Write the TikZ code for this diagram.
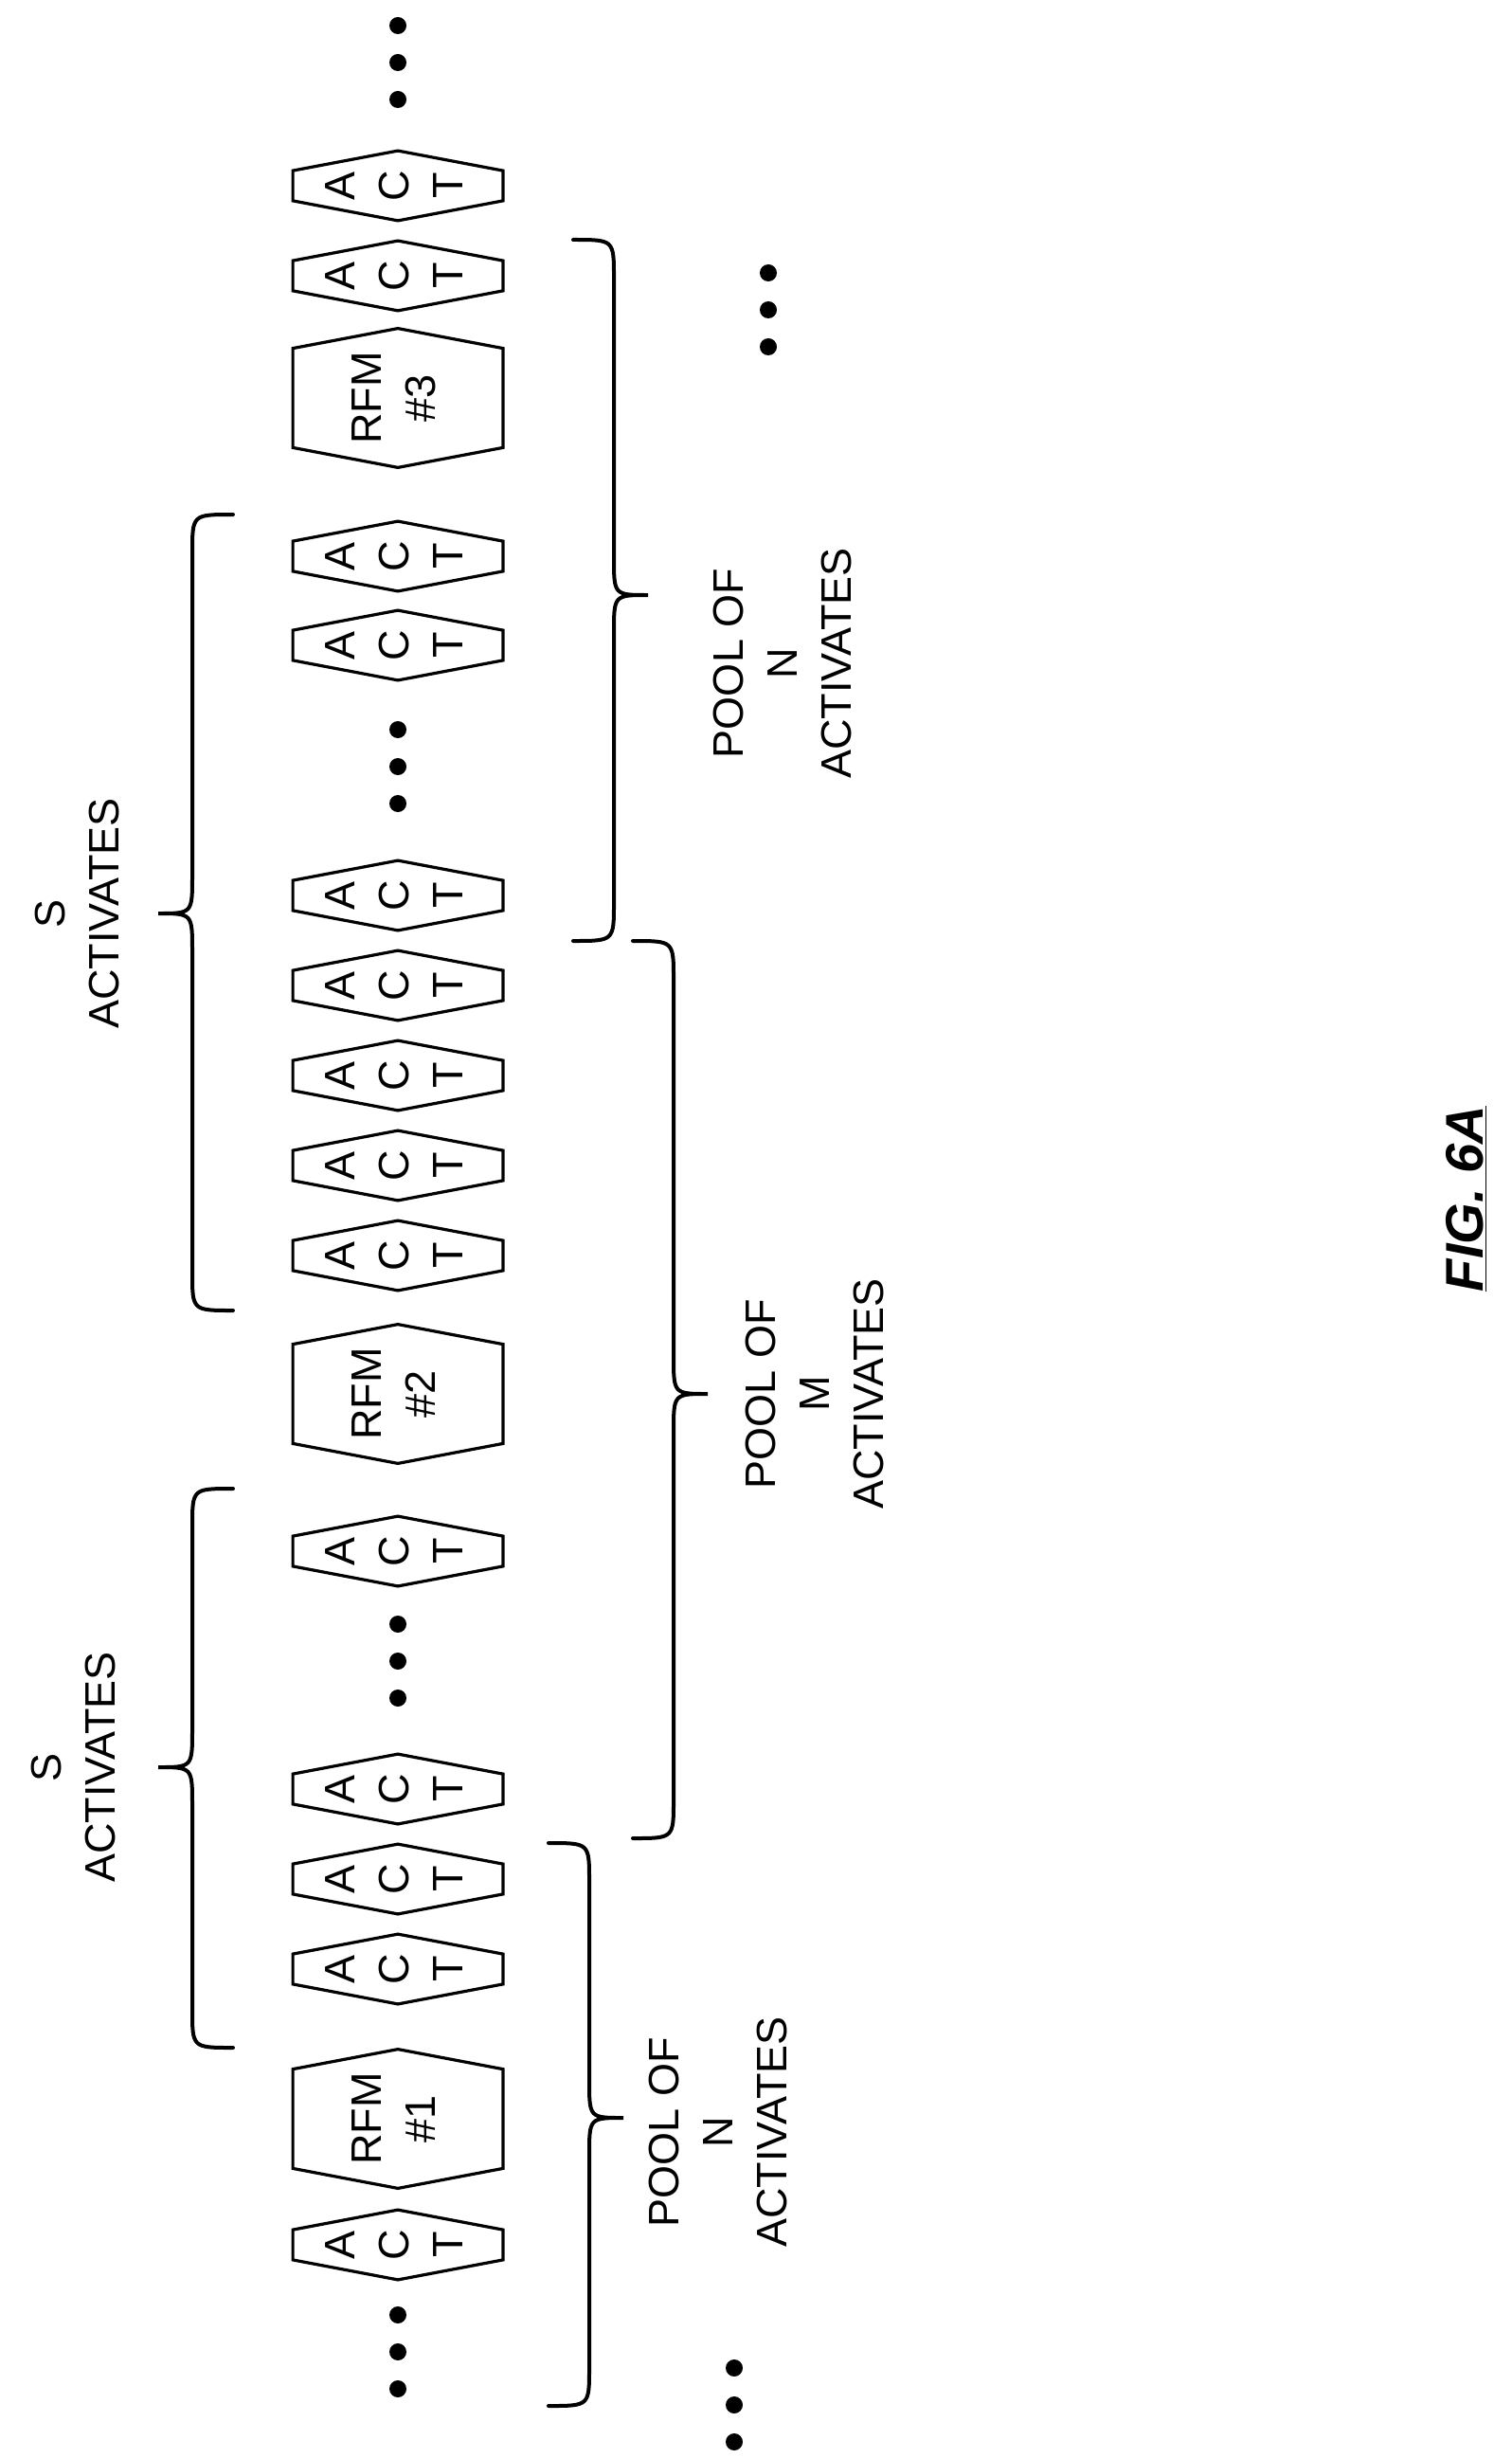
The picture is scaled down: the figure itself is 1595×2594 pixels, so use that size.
\documentclass[tikz,border=0pt]{standalone}
\usepackage{fontspec}
\setmainfont{Liberation Sans}
\usetikzlibrary{positioning}

\tikzset{
  hexline/.style={line width=1.6pt, line join=miter},
  hexa/.style={minimum width=110.5pt, inner sep=0pt, font=\fontsize{22.5pt}{28.5pt}\selectfont,
    append after command={\pgfextra{\draw[hexline] (\tikzlastnode.north)
      -- ([yshift=-10.5pt]\tikzlastnode.north east) -- ([yshift=10.5pt]\tikzlastnode.south east)
      -- (\tikzlastnode.south) -- ([yshift=10.5pt]\tikzlastnode.south west)
      -- ([yshift=-10.5pt]\tikzlastnode.north west) -- cycle;}}},
  act/.style={hexa, minimum height=36.5pt},
  rfm/.style={hexa, minimum height=73pt},
  lbl/.style={rotate=90, align=center, font=\fontsize{22.5pt}{28.5pt}\selectfont},
  brace/.style={line width=2pt, line cap=round},
  dot/.style={circle, fill, inner sep=0pt, minimum size=9pt}
}
\newcommand{\actlet}{\rotatebox{90}{\begin{tabular}{@{}c@{}}A\\C\\T\end{tabular}}}
\newcommand{\rfmlet}[1]{\rotatebox{90}{\begin{tabular}{@{}c@{}}RFM\\\##1\end{tabular}}}
% #1 line x, #2 side (+1 tip right), #3 top, #4 tip, #5 bottom
\newcommand{\curly}[5]{\draw[brace] ({#1-#2*43},#3) .. controls (#1,#3) .. (#1,#3+40)
  -- (#1,#4-40) .. controls (#1,#4) .. ({#1+#2*36},#4) .. controls (#1,#4) .. (#1,#4+40)
  -- (#1,#5-40) .. controls (#1,#5) .. ({#1-#2*43},#5);}

\begin{document}
\begin{tikzpicture}[x=0.5pt,y=-0.5pt]
\useasboundingbox (0,0) rectangle (1595,2594);

% chain of activates
\foreach \y [count=\i] in {2369,2078,1983,1888,1637,1325,1230,1135,1040,945,681,587,291,196}
  \node[act] (act\i) at (420,\y) {\actlet};
\node[rfm] (rfm1) at (420,2236) {\rfmlet{1}};
\node[rfm] (rfm2) at (420,1471) {\rfmlet{2}};
\node[rfm] (rfm3) at (420,420) {\rfmlet{3}};

% ellipses
\foreach \x/\y [count=\i] in {420/2482,420/1753,420/809,420/66,775/2538,811/327}
  \foreach \d in {-39,0,39}
    \node[dot] (dot\i\d) at (\x,\y+\d) {};

% braces
\curly{203}{-1}{1571}{1865}{2161}
\curly{203}{-1}{543}{964}{1383}
\curly{622}{1}{1945}{2235}{2539}
\curly{711}{1}{993}{1471}{1940}
\curly{648}{1}{253}{628}{993}

\node[lbl] (s1) at (78,1865) {S\\ACTIVATES};
\node[lbl] (s2) at (82,964) {S\\ACTIVATES};
\node[lbl] (n1) at (758,2250) {POOL OF\\N\\ACTIVATES};
\node[lbl] (m1) at (860,1471) {POOL OF\\M\\ACTIVATES};
\node[lbl] (n2) at (826,700) {POOL OF\\N\\ACTIVATES};

\node[rotate=90, font=\fontsize{28pt}{32pt}\selectfont\bfseries\itshape] (fig) at (1548,1265) {\underline{FIG. 6A}};
\end{tikzpicture}
\end{document}
